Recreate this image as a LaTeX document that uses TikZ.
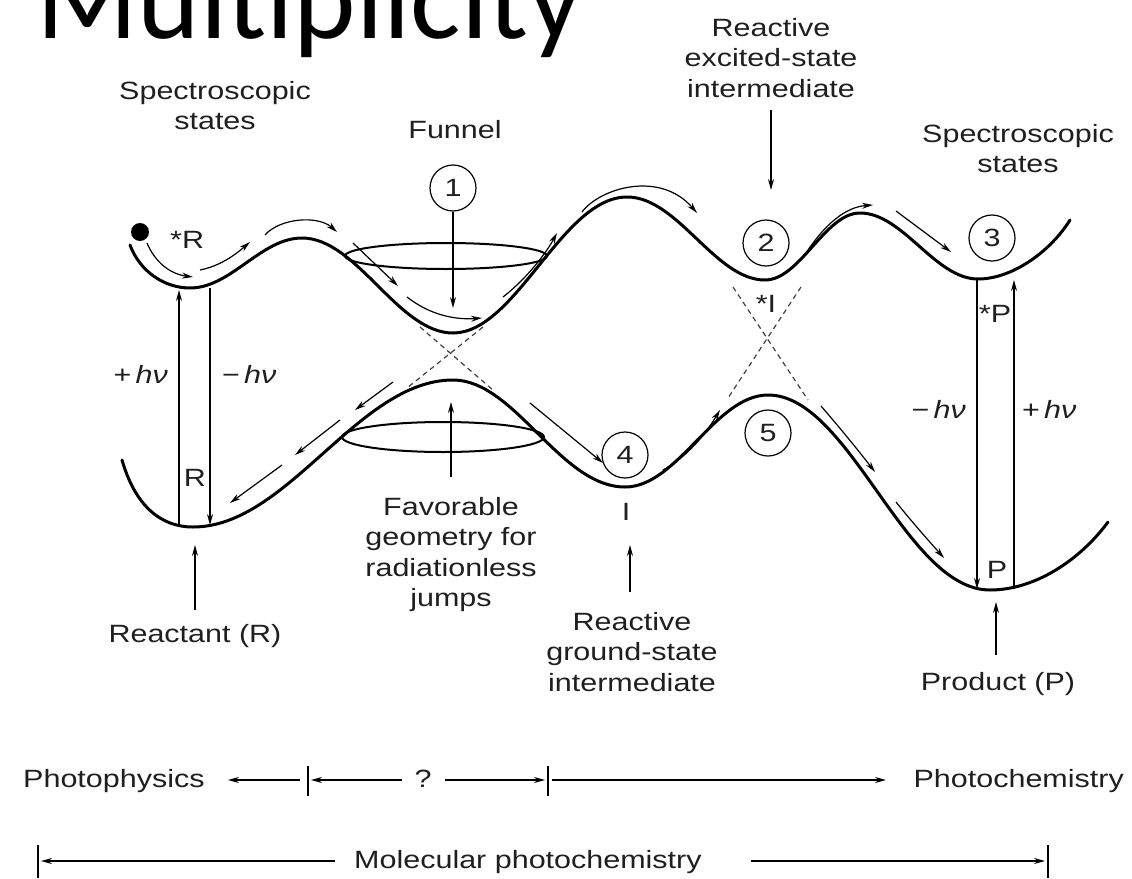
\documentclass[tikz,border=0pt]{standalone}
\usepackage{fontspec}
\setmainfont[FakeStretch=1.22]{Liberation Sans}
\newfontfamily\titlefont{Carlito}
\usetikzlibrary{arrows.meta}
\begin{document}
\begin{tikzpicture}[x=1pt,y=-1pt,
  lbl/.style={font=\fontsize{25}{30.5}\selectfont, text=black!88, align=center, inner sep=0pt},
  curve/.style={line width=3pt, line cap=round},
  flow/.style={line width=1.2pt, -{Stealth[length=11pt,width=6pt]}},
  vert/.style={line width=1.2pt, -{Stealth[length=11pt,width=6pt]}},
  num/.style={circle, draw, line width=1.2pt, minimum size=46pt, inner sep=0pt, font=\fontsize{25}{30}\selectfont, text=black!88},
  dsh/.style={line width=1.2pt, dash pattern=on 5pt off 4pt, black!75},
  ell/.style={line width=2pt},
  tick/.style={line width=1.2pt}
]
\useasboundingbox (0,0) rectangle (1132,878);
\clip (0,0) rectangle (1132,878);

% title (cut at the top)
\node[anchor=base west, inner sep=0pt, font=\titlefont\fontsize{119}{120}\selectfont] (title) at (36,38) {Multiplicity};

% ---------- curves ----------
% excited state
\draw[curve] (130,245) .. controls (140,272) and (165,288) .. (190,288)
  .. controls (231,288) and (261,238) .. (302,238)
  .. controls (357,238) and (398,333) .. (453,333)
  .. controls (516,333) and (562,197) .. (627,197)
  .. controls (678,197) and (715,280) .. (765,280)
  .. controls (800,280) and (825,213) .. (860,213)
  .. controls (903,213) and (935,279) .. (978,279)
  .. controls (1012,279) and (1050,252) .. (1070,220);
% ground state
\draw[curve] (122,460) .. controls (135,505) and (160,527) .. (193,527)
  .. controls (288,527) and (358,380) .. (453,380)
  .. controls (515,380) and (560,487) .. (625,487)
  .. controls (678,487) and (715,395) .. (768,395)
  .. controls (850,395) and (905,590) .. (990,590)
  .. controls (1035,590) and (1080,560) .. (1108,522);

% funnel ellipses
\draw[ell] (446,256) ellipse [x radius=101, y radius=13];
\draw[ell] (443,437) ellipse [x radius=101, y radius=15];

% dashed crossings
\coordinate (xa1) at (420,327); \coordinate (xa2) at (493,390);
\coordinate (xb1) at (483,327); \coordinate (xb2) at (407,388);
\draw[dsh] (xa1) -- (xa2);
\draw[dsh] (xb1) -- (xb2);
\coordinate (ya1) at (733,287); \coordinate (ya2) at (808,400);
\coordinate (yb1) at (801,287); \coordinate (yb2) at (728,398);
\draw[dsh] (ya1) -- (ya2);
\draw[dsh] (yb1) -- (yb2);

% ---------- flow arrows ----------
\draw[flow] (147,243) .. controls (155,262) and (170,274) .. (193,277);
\draw[flow] (200,270) .. controls (220,266) and (235,255) .. (250,242);
\draw[flow] (265,235) .. controls (280,218) and (318,215) .. (337,232);
\draw[flow] (353,243) -- (398,286);
\draw[flow] (407,297) .. controls (430,315) and (455,320) .. (482,318);
\draw[flow] (503,297) .. controls (525,280) and (545,255) .. (557,233);
\draw[flow] (582,212) .. controls (600,188) and (660,170) .. (697,213);
\draw[flow] (808,250) .. controls (825,225) and (845,207) .. (873,205);
\draw[flow] (896,211) -- (951,252);
\draw[flow] (393,382) -- (355,410);
\draw[flow] (340,420) -- (295,455);
\draw[flow] (282,465) -- (230,503);
\draw[flow] (530,403) -- (603,463);
\draw[flow] (663,470) .. controls (682,460) and (702,440) .. (720,410);
\draw[flow] (821,406) .. controls (840,428) and (858,450) .. (875,472);
\draw[flow] (896,502) .. controls (912,522) and (928,540) .. (944,558);

% ---------- photon arrows ----------
\coordinate (Rlo1) at (179,526); \coordinate (Rhi1) at (179,290);
\coordinate (Rhi2) at (210,288); \coordinate (Rlo2) at (210,525);
\draw[vert] (Rlo1) -- (Rhi1);
\draw[vert] (Rhi2) -- (Rlo2);
\coordinate (Phi1) at (977,280); \coordinate (Plo1) at (977,589);
\coordinate (Plo2) at (1014,589); \coordinate (Phi2) at (1014,280);
\draw[vert] (Phi1) -- (Plo1);
\draw[vert] (Plo2) -- (Phi2);

% ---------- labels ----------
\node[lbl, anchor=north] (specL) at (215,81) {Spectroscopic\\states};
\node[lbl, anchor=base] (funnel) at (455,138) {Funnel};
\node[num] (c1) at (453,188) {1};
\coordinate (c1end) at (453,308);
\draw[vert] (c1.south) -- (c1end);
\node[lbl, anchor=north] (rex) at (771,18) {Reactive\\excited-state\\intermediate};
\coordinate (rexs) at (771,110);
\coordinate (rexend) at (771,190);
\draw[vert] (rexs) -- (rexend);
\node[lbl, anchor=north] (specR) at (1018,124) {Spectroscopic\\states};
\node[num] (c2) at (766,243) {2};
\node[num] (c3) at (992,238) {3};
\node[num] (c4) at (625,455) {4};
\node[num] (c5) at (768,433) {5};

\fill (140,232) circle [radius=9];
\node[lbl, anchor=base west] (sR) at (170,248) {*R};
\node[lbl, anchor=base] (sI) at (766,312) {*I};
\node[lbl, anchor=base] (sP) at (995,322) {*P};
\node[lbl, anchor=base] (Rl) at (195,486) {R};
\node[lbl, anchor=base] (Pl) at (997,578) {P};
\node[lbl, anchor=base] (Il) at (626,520) {I};

\node[lbl, anchor=base east] (hv1) at (168,383) {+\,\textit{hν}};
\node[lbl, anchor=base west] (hv2) at (222,383) {−\,\textit{hν}};
\node[lbl, anchor=base east] (hv3) at (966,418) {−\,\textit{hν}};
\node[lbl, anchor=base west] (hv4) at (1022,418) {+\,\textit{hν}};

\node[lbl, anchor=north] (fav) at (451,497) {Favorable\\geometry for\\radiationless\\jumps};
\coordinate (favtop) at (451,402);
\coordinate (favbot) at (451,477);
\draw[vert] (favbot) -- (favtop);

\node[lbl, anchor=north] (react) at (195,624) {Reactant (R)};
\coordinate (reacttop) at (195,545);
\coordinate (reactbot) at (195,610);
\draw[vert] (reactbot) -- (reacttop);
\node[lbl, anchor=north] (rgs) at (632,612) {Reactive\\ground-state\\intermediate};
\coordinate (rgstop) at (630,545);
\coordinate (rgsbot) at (630,592);
\draw[vert] (rgsbot) -- (rgstop);
\node[lbl, anchor=north] (prod) at (998,672) {Product (P)};
\coordinate (prodtop) at (996,602);
\coordinate (prodbot) at (996,655);
\draw[vert] (prodbot) -- (prodtop);

% ---------- bottom scale ----------
\node[lbl, anchor=base west] (pphys) at (23,787) {Photophysics};
\node[lbl, anchor=base] (q) at (423,787) {?};
\node[lbl, anchor=base east] (pchem) at (1124,787) {Photochemistry};
\coordinate (t1a) at (308,766); \coordinate (t1b) at (308,796);
\coordinate (t2a) at (548,766); \coordinate (t2b) at (548,796);
\draw[tick] (t1a) -- (t1b);
\draw[tick] (t2a) -- (t2b);
\coordinate (a1s) at (300,780); \coordinate (a1e) at (228,780);
\coordinate (a2s) at (402,780); \coordinate (a2e) at (311,780);
\coordinate (a3s) at (445,780); \coordinate (a3e) at (545,780);
\coordinate (a4s) at (552,780); \coordinate (a4e) at (886,780);
\draw[vert] (a1s) -- (a1e);
\draw[vert] (a2s) -- (a2e);
\draw[vert] (a3s) -- (a3e);
\draw[vert] (a4s) -- (a4e);

\node[lbl, anchor=base west] (mol) at (354,868) {Molecular photochemistry};
\coordinate (t3a) at (38,845); \coordinate (t3b) at (38,878);
\coordinate (t4a) at (1048,845); \coordinate (t4b) at (1048,878);
\draw[tick] (t3a) -- (t3b);
\draw[tick] (t4a) -- (t4b);
\coordinate (m1s) at (335,861); \coordinate (m1e) at (41,861);
\coordinate (m2s) at (751,861); \coordinate (m2e) at (1045,861);
\draw[vert] (m1s) -- (m1e);
\draw[vert] (m2s) -- (m2e);
\end{tikzpicture}
\end{document}
